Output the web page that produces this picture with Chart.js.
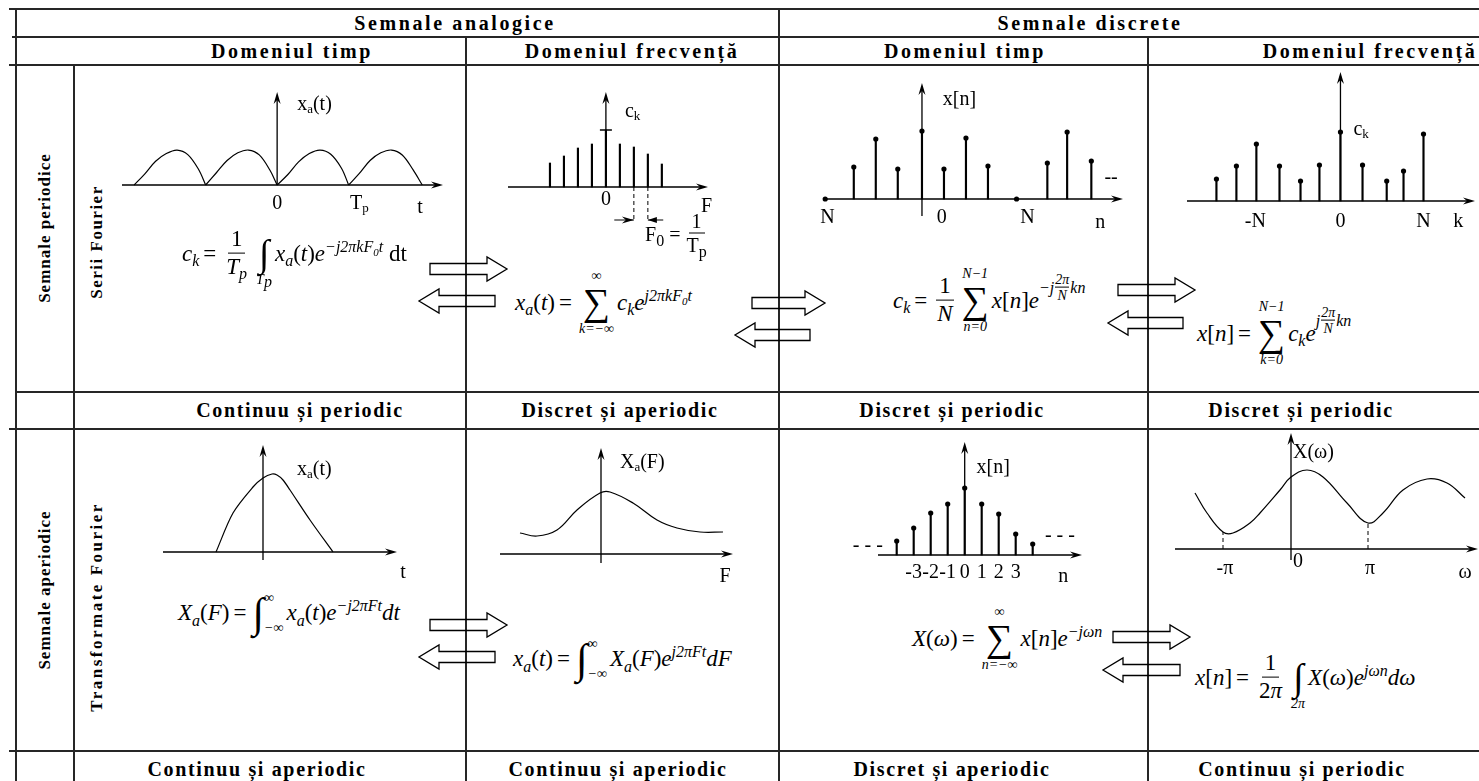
<!DOCTYPE html>
<html>
<head>
<meta charset="utf-8">
<title>Semnale analogice și discrete</title>
<script src="https://cdn.jsdelivr.net/npm/chart.js@4.4.0/dist/chart.umd.min.js"></script>
<style>
  body { margin: 0; background: #fff; }
  #page { position: relative; width: 1479px; height: 781px; overflow: hidden; background: #fff;
          font-family: "Liberation Serif", "Times New Roman", serif; color: #000; }
  .hl, .vl { position: absolute; background: #262626; }
  .hl { height: 2px; }
  .vl { width: 2px; }
  .hd { position: absolute; font-weight: bold; font-size: 20px; letter-spacing: 1.65px; white-space: nowrap;
        transform: translate(-50%, -50%); line-height: 1; }
  .top { letter-spacing: 2.6px; }
  .rot { position: absolute; font-weight: bold; font-size: 17px; letter-spacing: 1px; white-space: nowrap;
         transform: translate(-50%, -50%) rotate(-90deg); line-height: 1; }
  canvas { position: absolute; }
  #arrows { position: absolute; left: 0; top: 0; }
  .f { position: absolute; font-size: 23px; font-style: italic; white-space: nowrap; transform: translateY(-50%);
       display: flex; align-items: center; line-height: 1.1; }
  .f sub, .f sup { font-size: 16px; line-height: 0; }
  .f sub sub, .f sup sub { font-size: 11px; }
  .u { font-style: normal; }
  .eq { font-style: normal; margin: 0 4px; }
  .fr { display: inline-flex; flex-direction: column; align-items: center; margin: 0 3px; }
  .fr > span { padding: 0 3px; line-height: 1.15; }
  .fr > span:first-child { border-bottom: 1px solid #000; }
  .op { display: inline-flex; flex-direction: column; align-items: center; margin: 0 3px; }
  .op .sym { font-style: normal; font-size: 38px; line-height: 1; }
  .op .lim { font-size: 14px; line-height: 1.1; }
  .int { font-style: normal; font-size: 42px; line-height: 1; margin-left: 2px; }
  .il { display: inline-flex; flex-direction: column; justify-content: space-between; height: 44px;
        font-size: 14px; line-height: 1; margin-right: 3px; }
  .ex { display: inline-flex; align-items: center; font-size: 16px; position: relative; top: -13px; }
  .sf { display: inline-flex; flex-direction: column; align-items: center; font-size: 14px; margin: 0 1px; }
  .sf > span:first-child { border-bottom: 1px solid #000; }
</style>
</head>
<body>
<div id="page">
  <!-- table grid -->
  <div class="hl" style="left:9px;top:8px;width:1470px"></div>
  <div class="hl" style="left:12px;top:36px;width:1467px"></div>
  <div class="hl" style="left:9px;top:64px;width:1470px"></div>
  <div class="hl" style="left:15px;top:391px;width:1464px"></div>
  <div class="hl" style="left:9px;top:428px;width:1470px"></div>
  <div class="hl" style="left:9px;top:750px;width:1470px"></div>
  <div class="vl" style="left:15px;top:8px;height:773px"></div>
  <div class="vl" style="left:73px;top:64px;height:717px"></div>
  <div class="vl" style="left:465px;top:36px;height:745px"></div>
  <div class="vl" style="left:778px;top:8px;height:773px"></div>
  <div class="vl" style="left:1147px;top:36px;height:745px"></div>

  <!-- headers -->
  <div class="hd top" style="left:455px;top:23px">Semnale analogice</div>
  <div class="hd top" style="left:1090px;top:23px">Semnale discrete</div>
  <div class="hd top" style="left:292px;top:51px">Domeniul timp</div>
  <div class="hd top" style="left:632px;top:51px">Domeniul frecvență</div>
  <div class="hd top" style="left:965px;top:51px">Domeniul timp</div>
  <div class="hd top" style="left:1370px;top:51px">Domeniul frecvență</div>

  <div class="hd" style="left:300px;top:410px">Continuu și periodic</div>
  <div class="hd" style="left:620px;top:410px">Discret și aperiodic</div>
  <div class="hd" style="left:952px;top:410px">Discret și periodic</div>
  <div class="hd" style="left:1301px;top:410px">Discret și periodic</div>

  <div class="hd" style="left:257px;top:769px">Continuu și aperiodic</div>
  <div class="hd" style="left:618px;top:769px">Continuu și aperiodic</div>
  <div class="hd" style="left:952px;top:769px">Discret și aperiodic</div>
  <div class="hd" style="left:1302px;top:769px">Continuu și periodic</div>

  <div class="rot" style="left:44px;top:228px">Semnale periodice</div>
  <div class="rot" style="left:44px;top:590px">Semnale aperiodice</div>
  <div class="rot" style="left:96px;top:242px;letter-spacing:1.5px">Serii Fourier</div>
  <div class="rot" style="left:96px;top:607px;letter-spacing:2.5px">Transformate Fourier</div>

  <svg id="arrows" width="1479" height="781"></svg>

  <canvas id="c1" width="365" height="160" style="left:95px;top:80px"></canvas>
  <canvas id="c2" width="305" height="185" style="left:470px;top:75px"></canvas>
  <canvas id="c3" width="357" height="163" style="left:783px;top:72px"></canvas>
  <canvas id="c4" width="329" height="173" style="left:1150px;top:62px"></canvas>
  <canvas id="c5" width="360" height="155" style="left:100px;top:435px"></canvas>
  <canvas id="c6" width="305" height="155" style="left:470px;top:435px"></canvas>
  <canvas id="c7" width="357" height="160" style="left:783px;top:430px"></canvas>
  <canvas id="c8" width="329" height="167" style="left:1150px;top:423px"></canvas>

  <!-- formulas -->
  <div class="f" style="left:182px;top:253px">
    <span>c<sub>k</sub><span class="eq">=</span></span>
    <span class="fr"><span class="u">1</span><span>T<sub>p</sub></span></span>
    <span class="op"><span class="lim">&nbsp;</span><span class="sym">∫</span><span class="lim">T<sub>p</sub></span></span>
    <span>x<sub>a</sub><span class="u">(</span>t<span class="u">)</span>e<sup>−j2πkF<sub>0</sub>t</sup><span class="u"> dt</span></span>
  </div>
  <div class="f" style="left:515px;top:302px">
    <span>x<sub>a</sub><span class="u">(</span>t<span class="u">)</span><span class="eq">=</span></span>
    <span class="op"><span class="lim">∞</span><span class="sym">∑</span><span class="lim">k=−∞</span></span>
    <span>c<sub>k</sub>e<sup>j2πkF<sub>0</sub>t</sup></span>
  </div>
  <div class="f u" style="left:645px;top:233px;font-size:20px">
    <span>F<sub>0</sub> =</span>
    <span class="fr"><span>1</span><span>T<sub>p</sub></span></span>
  </div>
  <div class="f" style="left:893px;top:300px">
    <span>c<sub>k</sub><span class="eq">=</span></span>
    <span class="fr"><span class="u">1</span><span>N</span></span>
    <span class="op"><span class="lim">N−1</span><span class="sym">∑</span><span class="lim">n=0</span></span>
    <span>x<span class="u">[</span>n<span class="u">]</span>e</span>
    <span class="ex"><span>−j</span><span class="sf"><span>2π</span><span>N</span></span><span>kn</span></span>
  </div>
  <div class="f" style="left:1197px;top:333px">
    <span>x<span class="u">[</span>n<span class="u">]</span><span class="eq">=</span></span>
    <span class="op"><span class="lim">N−1</span><span class="sym">∑</span><span class="lim">k=0</span></span>
    <span>c<sub>k</sub>e</span>
    <span class="ex"><span>j</span><span class="sf"><span>2π</span><span>N</span></span><span>kn</span></span>
  </div>
  <div class="f" style="left:178px;top:613px">
    <span>X<sub>a</sub><span class="u">(</span>F<span class="u">)</span><span class="eq">=</span></span>
    <span class="int">∫</span><span class="il"><span>∞</span><span>−∞</span></span>
    <span>x<sub>a</sub><span class="u">(</span>t<span class="u">)</span>e<sup>−j2πFt</sup>dt</span>
  </div>
  <div class="f" style="left:513px;top:659px">
    <span>x<sub>a</sub><span class="u">(</span>t<span class="u">)</span><span class="eq">=</span></span>
    <span class="int">∫</span><span class="il"><span>∞</span><span>−∞</span></span>
    <span>X<sub>a</sub><span class="u">(</span>F<span class="u">)</span>e<sup>j2πFt</sup>dF</span>
  </div>
  <div class="f" style="left:912px;top:638px">
    <span>X<span class="u">(</span>ω<span class="u">)</span><span class="eq">=</span></span>
    <span class="op"><span class="lim">∞</span><span class="sym">∑</span><span class="lim">n=−∞</span></span>
    <span>x<span class="u">[</span>n<span class="u">]</span>e<sup>−jωn</sup></span>
  </div>
  <div class="f" style="left:1195px;top:677px">
    <span>x<span class="u">[</span>n<span class="u">]</span><span class="eq">=</span></span>
    <span class="fr"><span class="u">1</span><span><span class="u">2</span>π</span></span>
    <span class="op"><span class="lim">&nbsp;</span><span class="sym">∫</span><span class="lim">2π</span></span>
    <span>X<span class="u">(</span>ω<span class="u">)</span>e<sup>jωn</sup>dω</span>
  </div>
</div>

<script>
// ---------- data ----------

// analog periodic signal x_a(t), one list per period (T_p = 1)
const xaPerT = [
  [-2, -1.85, -1.7, -1.55, -1.4, -1.25, -1.1, -1],
  [-1, -0.85, -0.7, -0.55, -0.4, -0.25, -0.1, 0],
  [0, 0.15, 0.3, 0.45, 0.6, 0.75, 0.9, 1],
  [1, 1.15, 1.3, 1.45, 1.6, 1.75, 1.9, 2.03]
];
const xaPerV = [
  [0, 0.32, 0.68, 0.9, 1.0, 0.87, 0.45, 0],
  [0, 0.35, 0.7, 0.92, 1.0, 0.86, 0.42, 0],
  [0, 0.3, 0.66, 0.9, 1.0, 0.88, 0.48, 0],
  [0, 0.33, 0.7, 0.92, 1.0, 0.86, 0.44, 0]
];
const c1TickPos = [0, 1.15];
const c1TickText = ["0", "T_p"];

// Fourier series coefficients c_k (line spectrum)
const ckK = [-4, -3, -2, -1, 0, 1, 2, 3, 4];
const ckVal = [2.4, 3.1, 3.9, 4.3, 5.7, 4.3, 4.0, 3.3, 2.3];
const c2TickPos = [0];
const c2TickText = ["0"];

// periodic discrete signal x[n]
const xnPerN = [-4.4, -3.1, -2.1, -1.1, 0, 1, 2, 3, 4.3, 5.7, 6.6, 7.7];
const xnPerV = [0, 3.2, 6.0, 3.0, 6.8, 3.0, 6.1, 3.3, 0, 3.6, 6.7, 3.8];
const c3TickPos = [-4.3, 0.9, 4.8];
const c3TickText = ["N", "0", "N"];

// DFS coefficients c_k
const ckdK = [-5.9, -4.95, -4, -2.9, -1.9, -1, 0, 1.05, 2.2, 3, 3.95];
const ckdVal = [2.2, 3.5, 5.7, 3.5, 2.0, 3.6, 6.9, 3.6, 2.0, 3.0, 6.7];
const c4TickPos = [-4.05, 0, 3.95];
const c4TickText = ["-N", "0", "N"];

// aperiodic analog pulse x_a(t)
const xaT = [-4.7, -3.0, -1.0, 0, 0.9, 1.4, 2.0, 2.7, 4.7, 7.0];
const xaV = [0, 3.9, 6.5, 7.4, 7.8, 7.7, 7.2, 6.2, 3.2, 0];

// its spectrum X_a(F)
const XaF = [-8.1, -6.4, -4.4, -2.4, -0.1, 0.9, 3.2, 5.6, 7.6, 9.9, 12.2];
const XaV = [2.1, 1.8, 2.4, 4.4, 6.1, 6.2, 5.1, 3.4, 2.6, 2.2, 2.2];

// aperiodic discrete signal x[n]
const xnN = [-4, -3, -2, -1, 0, 1, 2, 3, 4];
const xnV = [1.4, 2.7, 4.2, 5.1, 6.7, 5.1, 4.1, 2.1, 1.1];
const c7TickPos = [-3, -2, -1, 0, 1, 2, 3];
const c7TickText = ["-3", "-2", "-1", "0", "1", "2", "3"];

// X(omega)
const XwW = [-9.6, -8.4, -6.8, -5.8, -4.1, -3.1, -1.1, 0, 1.6, 3.2, 5.6, 7.7, 9.2, 11.2, 13.6, 15.6, 17.4];
const XwV = [5.6, 3.6, 1.7, 1.6, 2.6, 3.6, 5.9, 7.2, 7.9, 7.2, 4.6, 2.6, 3.6, 5.9, 7.0, 6.6, 5.1];
const c8TickPos = [-6.6, 0.7, 7.9];
const c8TickText = ["-π", "0", "π"];

// ---------- drawing helpers ----------

const FONT = '"Liberation Serif", "Times New Roman", serif';

function pts(xs, ys) {
  return xs.map((v, i) => ({ x: v, y: ys[i] }));
}

function curve(xs, ys, tension) {
  return { type: "line", data: pts(xs, ys), borderColor: "#000", borderWidth: 1.2,
           pointRadius: 0, tension: tension, fill: false, clip: false };
}

function stems(xs, ys) {
  return { type: "bar", data: pts(xs, ys), backgroundColor: "#000", barThickness: 1.5, clip: false };
}

function dots(xs, ys) {
  return { type: "scatter", data: pts(xs, ys), pointRadius: 2.6, pointBackgroundColor: "#000",
           pointBorderWidth: 0, showLine: false, clip: false };
}

function dashed(x, y) {
  return { type: "line", data: [{ x: x, y: 0 }, { x: x, y: y }], borderColor: "#000", borderWidth: 1,
           borderDash: [4, 3], pointRadius: 0, clip: false };
}

// text with "_x" subscripts
function richText(ctx, str, x, y, align) {
  const parts = [];
  const re = /_(.)/g;
  let last = 0, m;
  while ((m = re.exec(str))) {
    if (m.index > last) parts.push({ t: str.slice(last, m.index), sub: false });
    parts.push({ t: m[1], sub: true });
    last = re.lastIndex;
  }
  if (last < str.length) parts.push({ t: str.slice(last), sub: false });
  const big = "20px " + FONT, small = "13px " + FONT;
  let w = 0;
  parts.forEach(p => { ctx.font = p.sub ? small : big; p.w = ctx.measureText(p.t).width; w += p.w; });
  let cx = align === "left" ? x : x - w / 2;
  ctx.textAlign = "left";
  ctx.textBaseline = "middle";
  parts.forEach(p => {
    ctx.font = p.sub ? small : big;
    ctx.fillText(p.t, cx, p.sub ? y + 5 : y);
    cx += p.w;
  });
}

function head(ctx, x, y, dir) {
  ctx.beginPath();
  if (dir === "r") {
    ctx.moveTo(x, y); ctx.lineTo(x - 12, y - 3.5); ctx.lineTo(x - 8, y); ctx.lineTo(x - 12, y + 3.5);
  } else if (dir === "l") {
    ctx.moveTo(x, y); ctx.lineTo(x + 9, y - 3); ctx.lineTo(x + 9, y + 3);
  } else {
    ctx.moveTo(x, y); ctx.lineTo(x - 3.5, y + 12); ctx.lineTo(x, y + 8); ctx.lineTo(x + 3.5, y + 12);
  }
  ctx.closePath();
  ctx.fill();
}

const axesPlugin = {
  id: "axes",
  beforeDatasetsDraw(chart, args, o) {
    const { ctx, chartArea: a, scales: { x, y } } = chart;
    const x0 = x.getPixelForValue(0), y0 = y.getPixelForValue(0);
    ctx.save();
    ctx.strokeStyle = "#000";
    ctx.fillStyle = "#000";
    ctx.lineWidth = 1.3;
    ctx.beginPath();
    ctx.moveTo(a.left, y0); ctx.lineTo(a.right - 4, y0);
    ctx.moveTo(x0, y.getPixelForValue(o.yLow || 0)); ctx.lineTo(x0, a.top + 4);
    ctx.stroke();
    head(ctx, a.right, y0, "r");
    head(ctx, x0, a.top, "u");
    ctx.restore();
  },
  afterDatasetsDraw(chart, args, o) {
    const { ctx, scales: { x, y } } = chart;
    const y0 = y.getPixelForValue(0);
    ctx.save();
    ctx.fillStyle = "#000";
    ctx.strokeStyle = "#000";
    if (o.ticks) {
      o.ticks.pos.forEach((v, i) => {
        const dy = Array.isArray(o.ticks.dy) ? o.ticks.dy[i] : o.ticks.dy;
        richText(ctx, o.ticks.text[i], x.getPixelForValue(v), y0 + dy, "center");
      });
    }
    (o.labels || []).forEach(l => {
      const py = l.dy !== undefined ? y0 + l.dy : y.getPixelForValue(l.y);
      richText(ctx, l.t, x.getPixelForValue(l.x), py, l.align || "center");
    });
    (o.arrows || []).forEach(r => {
      const py = y0 + r.dy, x1 = x.getPixelForValue(r.from), x2 = x.getPixelForValue(r.to);
      ctx.lineWidth = 1;
      ctx.beginPath(); ctx.moveTo(x1, py); ctx.lineTo(x2, py); ctx.stroke();
      head(ctx, x2, py, x2 > x1 ? "r" : "l");
    });
    ctx.restore();
  }
};

function draw(id, xr, yr, pad, datasets, axes) {
  return new Chart(document.getElementById(id), {
    type: "line",
    data: { datasets: datasets },
    options: {
      responsive: false,
      animation: false,
      events: [],
      layout: { padding: pad },
      plugins: { legend: { display: false }, tooltip: { enabled: false }, axes: axes },
      scales: {
        x: { type: "linear", min: xr[0], max: xr[1], display: false, offset: false },
        y: { type: "linear", min: yr[0], max: yr[1], display: false }
      }
    },
    plugins: [axesPlugin]
  });
}

// ---------- the eight small charts ----------

draw("c1", [-2.17, 2.32], [0, 2.66], { left: 27, right: 17, top: 12, bottom: 55 },
  xaPerT.map((t, i) => curve(t, xaPerV[i], 0.35)),
  { ticks: { pos: c1TickPos, text: c1TickText, dy: 19 },
    labels: [{ t: "x_a(t)", x: 0.28, y: 2.29, align: "left" }, { t: "t", x: 2.0, dy: 23 }] });

draw("c2", [-7, 7.3], [0, 9.5], { left: 38, right: 67, top: 17, bottom: 73 },
  [stems(ckK, ckVal),
   { type: "scatter", data: [{ x: 0, y: ckVal[ckK.indexOf(0)] }], pointStyle: "line", pointRadius: 6,
     borderColor: "#000", borderWidth: 1.5, showLine: false, clip: false },
   dashed(2, -3.5), dashed(3, -3.5)],
  { ticks: { pos: c2TickPos, text: c2TickText, dy: 13 },
    labels: [{ t: "c_k", x: 1.36, y: 7.5, align: "left" }, { t: "F", x: 7.2, dy: 20 }],
    arrows: [{ from: 0.6, to: 2, dy: 33 }, { from: 4.1, to: 3, dy: 33 }] });

draw("c3", [-4.5, 9.14], [0, 11.6], { left: 40, right: 17, top: 11, bottom: 36 },
  [stems(xnPerN, xnPerV), dots(xnPerN, xnPerV)],
  { yLow: -1.7, ticks: { pos: c3TickPos, text: c3TickText, dy: 19 },
    labels: [{ t: "x[n]", x: 0.95, y: 9.9, align: "left" }, { t: "n", x: 8.1, dy: 24 },
             { t: "--", x: 8.6, y: 2.1 }] });

draw("c4", [-7.3, 6.4], [0, 12.9], { left: 37, right: 4, top: 10, bottom: 34 },
  [stems(ckdK, ckdVal), dots(ckdK, ckdVal)],
  { ticks: { pos: c4TickPos, text: c4TickText, dy: 21 },
    labels: [{ t: "c_k", x: 0.62, y: 7.1, align: "left" }, { t: "k", x: 5.6, dy: 21 }] });

draw("c5", [-10, 13.4], [0, 10.7], { left: 63, right: 63, top: 10, bottom: 38 },
  [curve(xaT, xaV, 0.3)],
  { yLow: -0.8,
    labels: [{ t: "x_a(t)", x: 3.4, y: 8.2, align: "left" }, { t: "t", x: 14.0, dy: 21 }] });

draw("c6", [-10.1, 13.2], [0, 10.6], { left: 30, right: 42, top: 13, bottom: 36 },
  [curve(XaF, XaV, 0.4)],
  { yLow: -0.9,
    labels: [{ t: "X_a(F)", x: 1.9, y: 9.1, align: "left" }, { t: "F", x: 12.4, dy: 23 }] });

draw("c7", [-5.1, 6.9], [0, 11.3], { left: 95, right: 58, top: 12, bottom: 35 },
  [stems(xnN, xnV), dots(xnN, xnV)],
  { ticks: { pos: c7TickPos, text: c7TickText, dy: 18 },
    labels: [{ t: "x[n]", x: 0.7, y: 8.7, align: "left" }, { t: "n", x: 5.8, dy: 22 },
             { t: "- - -", x: -5.7, y: 0.9 }, { t: "- - -", x: 5.6, y: 1.9 }] });

draw("c8", [-11.6, 18.7], [0, 11.6], { left: 25, right: 1, top: 10, bottom: 41 },
  [curve(XwW, XwV, 0.4),
   dashed(XwW[2], XwV[2]), dashed(XwW[11], XwV[11])],
  { yLow: -1.1, ticks: { pos: c8TickPos, text: c8TickText, dy: [20, 13, 20] },
    labels: [{ t: "X(ω)", x: 0.2, y: 9.6, align: "left" }, { t: "ω", x: 17.4, dy: 24 }] });

// ---------- hollow transform arrows between the cells ----------
const arrowSpecs = [
  [430, 507, 269], [495, 419, 301], [752, 825, 303], [810, 735, 335],
  [1118, 1195, 290], [1183, 1108, 323],
  [430, 507, 625], [495, 419, 657], [1113, 1190, 637], [1180, 1103, 670]
];
const svg = document.getElementById("arrows");
arrowSpecs.forEach(([tail, tip, cy]) => {
  const s = tip > tail ? 1 : -1, b = tip - s * 20;
  const p = [[tail, cy - 5.5], [b, cy - 5.5], [b, cy - 12], [tip, cy], [b, cy + 12], [b, cy + 5.5], [tail, cy + 5.5]];
  const poly = document.createElementNS("http://www.w3.org/2000/svg", "polygon");
  poly.setAttribute("points", p.map(q => q.join(",")).join(" "));
  poly.setAttribute("fill", "none");
  poly.setAttribute("stroke", "#000");
  poly.setAttribute("stroke-width", "1.3");
  svg.appendChild(poly);
});
</script>
</body>
</html>
